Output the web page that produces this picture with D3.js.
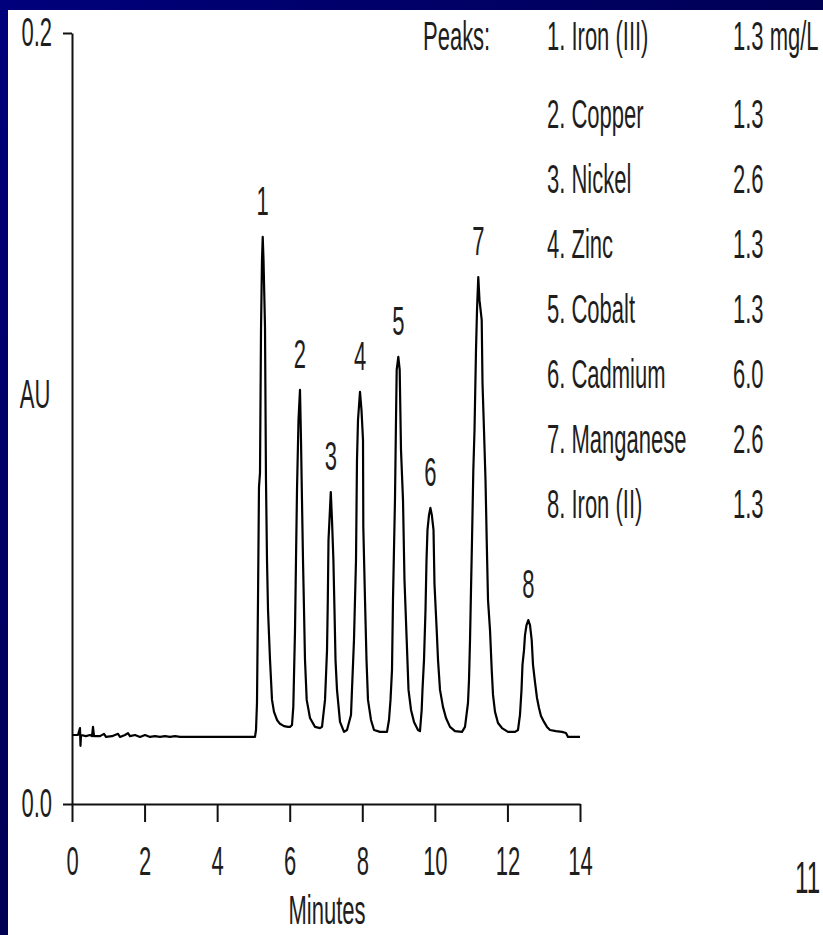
<!DOCTYPE html>
<html lang="en">
<head>
<meta charset="UTF-8">
<title>Chromatogram - transition metals</title>
<script src="https://cdn.jsdelivr.net/npm/d3@7"></script>
<style>
    body {
        margin: 0;
        background: #000050;
    }
    svg {
        display: block;
    }
    text {
        font-family: "Liberation Sans", Arial, sans-serif;
        fill: #1e1e1e;
    }
</style>
</head>
<body>
<svg id="chart" width="823" height="935"></svg>

<script>
// axis ticks
const xTicks = [0, 2, 4, 6, 8, 10, 12, 14];
const yTicks = [0.0, 0.2];

// detector trace (minutes, AU)
const traceMinutes = [
    0, 0.110, 0.165, 0.220, 0.234, 0.248, 0.386, 0.496, 0.551, 0.579, 0.606, 0.772, 0.882, 0.937,
    1.102, 1.268, 1.323, 1.461, 1.543, 1.598, 1.736, 1.874, 2.012, 2.150, 2.287, 2.425, 2.563,
    2.701, 2.839, 2.976, 3.114, 5.043,
    // peak 1
    5.071, 5.098, 5.126, 5.153, 5.181, 5.209, 5.236, 5.256, 5.278, 5.319, 5.346, 5.374, 5.402,
    5.457, 5.512, 5.567, 5.650, 5.732, 5.843, 5.953, 6.008,
    // peak 2
    6.063, 6.099, 6.146, 6.173, 6.201, 6.242, 6.283, 6.311, 6.338, 6.366, 6.394, 6.421, 6.468,
    6.559, 6.697, 6.835,
    // peak 3
    6.890, 6.973, 7.028, 7.050, 7.069, 7.132, 7.165, 7.204, 7.234, 7.262, 7.303, 7.386, 7.496, 7.579,
    // peak 4
    7.689, 7.716, 7.771, 7.799, 7.827, 7.854, 7.882, 7.937, 7.978, 8.020, 8.028, 8.075, 8.116,
    8.157, 8.240, 8.323, 8.488, 8.681,
    // peak 5
    8.736, 8.778, 8.819, 8.846, 8.901, 8.929, 8.948, 8.993, 9.031, 9.067, 9.122, 9.163, 9.224,
    9.274, 9.343, 9.425, 9.535,
    // peak 6
    9.590, 9.637, 9.659, 9.701, 9.742, 9.770, 9.797, 9.839, 9.877, 9.916, 9.963, 9.990, 10.051,
    10.087, 10.142, 10.224, 10.307, 10.417, 10.555,
    // peak 7
    10.748, 10.831, 10.913, 10.941, 10.969, 10.996, 11.024, 11.060, 11.093, 11.134, 11.162, 11.197,
    11.230, 11.291, 11.313, 11.354, 11.396, 11.429, 11.465, 11.520, 11.567, 11.603, 11.658, 11.740,
    11.850, 12.016, 12.209,
    // peak 8
    12.291, 12.346, 12.388, 12.415, 12.457, 12.484, 12.526, 12.575, 12.622, 12.669, 12.705, 12.760,
    12.815, 12.870, 12.925, 13.008, 13.090, 13.173, 13.338, 13.504, 13.614, 13.669, 14.0
];
const traceAU = [
    0.0179, 0.0179, 0.0179, 0.0197, 0.0151, 0.0179, 0.0176, 0.0179, 0.0176, 0.0200, 0.0176, 0.0176, 0.0182, 0.0174,
    0.0176, 0.0182, 0.0174, 0.0179, 0.0184, 0.0176, 0.0179, 0.0174, 0.0179, 0.0174, 0.0176, 0.0174, 0.0176,
    0.0174, 0.0176, 0.0174, 0.0174, 0.0174,
    0.0192, 0.0262, 0.0529, 0.0822, 0.0859, 0.1230, 0.1411, 0.1471, 0.1411, 0.1237, 0.0841, 0.0633, 0.0503,
    0.0374, 0.0270, 0.0239, 0.0218, 0.0208, 0.0202, 0.0200, 0.0200,
    0.0205, 0.0252, 0.0451, 0.0633, 0.0815, 0.0996, 0.1074, 0.0944, 0.0789, 0.0633, 0.0503, 0.0374, 0.0270,
    0.0223, 0.0200, 0.0197,
    0.0200, 0.0270, 0.0399, 0.0529, 0.0685, 0.0809, 0.0737, 0.0633, 0.0503, 0.0374, 0.0296, 0.0213, 0.0187, 0.0192,
    0.0231, 0.0296, 0.0425, 0.0529, 0.0633, 0.0892, 0.0996, 0.1069, 0.1022, 0.0944, 0.0719, 0.0529, 0.0374,
    0.0270, 0.0218, 0.0192, 0.0187, 0.0187,
    0.0218, 0.0270, 0.0348, 0.0529, 0.0789, 0.0996, 0.1126, 0.1160, 0.1126, 0.0918, 0.0789, 0.0581, 0.0425,
    0.0296, 0.0244, 0.0213, 0.0192,
    0.0189, 0.0244, 0.0296, 0.0374, 0.0503, 0.0633, 0.0711, 0.0750, 0.0768, 0.0750, 0.0711, 0.0570, 0.0451,
    0.0374, 0.0296, 0.0252, 0.0223, 0.0200, 0.0189,
    0.0187, 0.0200, 0.0262, 0.0322, 0.0425, 0.0555, 0.0685, 0.0866, 0.0970, 0.1178, 0.1282, 0.1367,
    0.1307, 0.1256, 0.1092, 0.0970, 0.0840, 0.0685, 0.0529, 0.0451, 0.0348, 0.0283, 0.0239, 0.0210,
    0.0197, 0.0187, 0.0187,
    0.0192, 0.0231, 0.0296, 0.0361, 0.0399, 0.0438, 0.0464, 0.0477, 0.0464, 0.0425, 0.0361, 0.0316,
    0.0275, 0.0249, 0.0228, 0.0213, 0.0200, 0.0192, 0.0189, 0.0187, 0.0184, 0.0174, 0.0174
];

// peak apexes (for the number labels)
const peakNumbers = ["1", "2", "3", "4", "5", "6", "7", "8"];
const peakMinutes = [5.256, 6.283, 7.132, 7.937, 8.993, 9.877, 11.197, 12.575];
const peakAU = [0.1471, 0.1074, 0.0809, 0.1069, 0.1160, 0.0768, 0.1367, 0.0477];

// legend
const analytes = ["1. Iron (III)", "2. Copper", "3. Nickel", "4. Zinc",
                  "5. Cobalt", "6. Cadmium", "7. Manganese", "8. Iron (II)"];
const concentrations = ["1.3 mg/L", "1.3", "2.6", "1.3", "1.3", "6.0", "2.6", "1.3"];

const width = 823, height = 935;
const squeeze = 0.55;   // condensed lettering
const fontSize = 40;

const svg = d3.select('#chart');

// slide background: navy frame + white sheet
const grad = svg.append('defs').append('linearGradient')
    .attr('id', 'navy')
    .attr('x1', 0).attr('y1', 0).attr('x2', 1).attr('y2', 1);
grad.append('stop').attr('offset', '0%').attr('stop-color', '#00007c');
grad.append('stop').attr('offset', '100%').attr('stop-color', '#00002e');

svg.append('rect')
    .attr('width', width).attr('height', height)
    .attr('fill', 'url(#navy)');
svg.append('rect')
    .attr('x', 8).attr('y', 10)
    .attr('width', width - 8).attr('height', height - 10)
    .attr('fill', 'white');

const x = d3.scaleLinear().domain([0, 14]).range([72, 580]);
const y = d3.scaleLinear().domain([0, 0.2]).range([804, 33]);

// y axis
const yAxis = svg.append('g')
    .attr('transform', 'translate(72,0)')
    .call(d3.axisLeft(y)
        .tickValues(yTicks)
        .tickFormat(d3.format('.1f'))
        .tickSizeInner(9)
        .tickSizeOuter(0)
        .tickPadding(20 / squeeze - 9));

// x axis
const xAxis = svg.append('g')
    .attr('transform', 'translate(0,804)')
    .call(d3.axisBottom(x)
        .tickValues(xTicks)
        .tickSizeInner(18)
        .tickSizeOuter(0)
        .tickPadding(25));

[yAxis, xAxis].forEach(ax => {
    ax.select('.domain').attr('stroke', '#111').attr('stroke-width', 2);
    ax.selectAll('.tick line').attr('stroke', '#111').attr('stroke-width', 2);
    ax.selectAll('.tick text')
        .attr('font-size', fontSize)
        .attr('font-family', '"Liberation Sans", Arial, sans-serif')
        .attr('fill', '#1e1e1e')
        .attr('transform', `scale(${squeeze},1)`);
});

// axis titles
svg.append('text')
    .attr('transform', `translate(327,924) scale(${squeeze},1)`)
    .attr('text-anchor', 'middle')
    .attr('font-size', fontSize)
    .text('Minutes');

svg.append('text')
    .attr('transform', `translate(35,408) scale(${squeeze},1)`)
    .attr('text-anchor', 'middle')
    .attr('font-size', fontSize)
    .text('AU');

// the trace
const line = d3.line()
    .x(d => x(d[0]))
    .y(d => y(d[1]));

svg.append('path')
    .datum(d3.zip(traceMinutes, traceAU))
    .attr('d', line)
    .attr('fill', 'none')
    .attr('stroke', '#000')
    .attr('stroke-width', 2.2)
    .attr('stroke-linejoin', 'round');

// peak numbers
svg.selectAll('.peakLabel')
    .data(peakNumbers)
    .join('text')
    .attr('class', 'peakLabel')
    .attr('transform', (d, i) => `translate(${x(peakMinutes[i])},${y(peakAU[i]) - 22}) scale(${squeeze},1)`)
    .attr('text-anchor', 'middle')
    .attr('font-size', fontSize)
    .text(d => d);

// legend
const rowY = i => i === 0 ? 50 : 128 + (i - 1) * 65;

svg.append('text')
    .attr('transform', `translate(423,${rowY(0)}) scale(${squeeze},1)`)
    .attr('font-size', fontSize)
    .text('Peaks:');

svg.selectAll('.analyte')
    .data(analytes)
    .join('text')
    .attr('class', 'analyte')
    .attr('transform', (d, i) => `translate(547,${rowY(i)}) scale(${squeeze},1)`)
    .attr('font-size', fontSize)
    .text(d => d);

svg.selectAll('.conc')
    .data(concentrations)
    .join('text')
    .attr('class', 'conc')
    .attr('transform', (d, i) => `translate(733,${rowY(i)}) scale(${squeeze},1)`)
    .attr('font-size', fontSize)
    .text(d => d);

// slide number
svg.append('text')
    .attr('transform', `translate(795,893) scale(${squeeze},1)`)
    .attr('font-size', 44)
    .text('11');
</script>
</body>
</html>
